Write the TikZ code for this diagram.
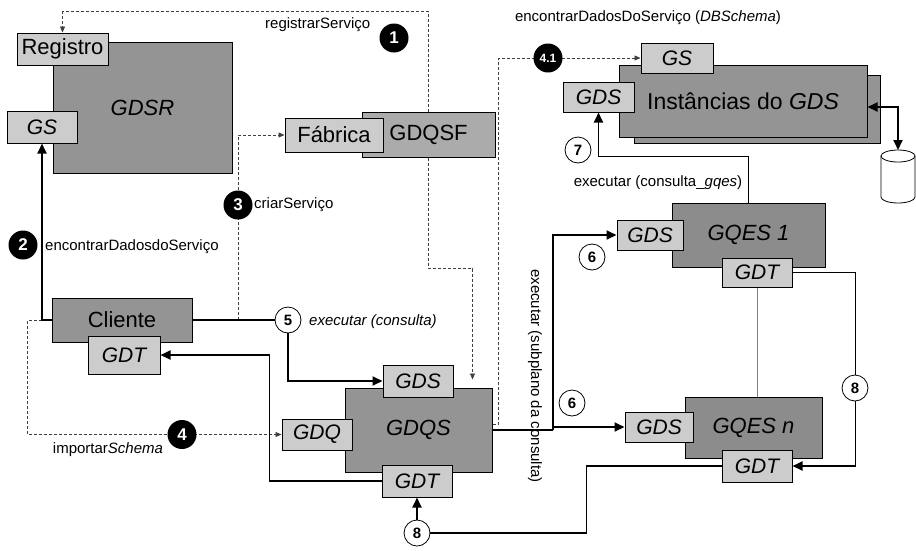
\documentclass[tikz,border=0pt]{standalone}
\usepackage{fontspec}
\setmainfont{Liberation Sans}
\usetikzlibrary{positioning,arrows.meta,calc,shadows}
\pgfdeclarelayer{marks}
\pgfsetlayers{main,marks}

\begin{document}
\begin{tikzpicture}[
    x=1pt, y=-1pt,
    bigbox/.style={draw=black, fill=black!42, line width=1pt, inner sep=0pt,
                   font=\fontsize{22}{24}\selectfont\itshape,
                   drop shadow={shadow xshift=1.2pt, shadow yshift=-1.2pt, fill=black, opacity=0.7}},
    tagbox/.style={draw=black, fill=black!20, line width=1pt, inner sep=0pt,
                   minimum width=70pt, minimum height=31pt,
                   font=\fontsize{21}{24}\selectfont\itshape,
                   drop shadow={shadow xshift=1.2pt, shadow yshift=-1.2pt, fill=black, opacity=0.7}},
    upright/.style={font=\fontsize{22}{24}\selectfont},
    msg/.style={inner sep=0pt, font=\fontsize{15}{18}\selectfont},
    stepdot/.style={circle, fill=black, text=white, minimum size=29pt, inner sep=0pt,
                    font=\fontsize{17}{17}\selectfont\bfseries},
    stepring/.style={circle, draw=black, fill=white, line width=0.8pt, minimum size=26pt,
                     inner sep=0pt, font=\fontsize{15}{15}\selectfont\bfseries},
    flow/.style={-{Triangle[length=10pt,width=9pt]}, line width=1.8pt},
    link/.style={line width=1.8pt},
    call/.style={-{Triangle[length=6pt,width=5pt]}, dash pattern=on 3pt off 2pt,
                 line width=0.8pt, black!75}
]
\useasboundingbox (0,0) rectangle (916,550);

% Registry
\node[bigbox, minimum width=179pt, minimum height=131pt] (gdsr) at (142.5,107.5) {GDSR};
\node[tagbox, upright, minimum width=91pt, minimum height=32pt] (registro) at (62.5,49) {Registro};
\node[tagbox, minimum height=32pt] (gsr) at (42,127) {GS};

% Factory
\node[bigbox, upright, fill=black!33, minimum width=133pt, minimum height=45pt] (gdqsf) at (428.5,134.5) {GDQSF};
\node[tagbox, upright, minimum width=98pt, minimum height=34pt] (fabrica) at (334,135) {Fábrica};

% Data service instances
\node[bigbox, minimum width=246pt, minimum height=68pt] (inst2) at (757,109) {};
\node[bigbox, font=\fontsize{23}{24}\selectfont, minimum width=248pt, minimum height=72pt] (inst) at (743,101) {Instâncias do \textit{GDS}};
\node[tagbox, minimum width=72pt, minimum height=30pt] (gs2) at (677,58) {GS};
\node[tagbox, minimum width=71pt, minimum height=30pt] (gds0) at (598.5,97) {GDS};

% Database
\draw[fill=white, line width=0.8pt] (881,156) -- (881,197)
    arc[start angle=180, end angle=360, x radius=17pt, y radius=6pt] -- (915,156);
\draw[fill=white, line width=0.8pt] (898,156) ellipse [x radius=17pt, y radius=6pt];
\coordinate (dbtop) at (898,150);

% Evaluation services
\node[bigbox, fill=black!45, minimum width=153pt, minimum height=64pt] (gqes1) at (748.5,235) {GQES 1};
\node[tagbox, minimum width=66pt, minimum height=30pt] (gds1) at (650,235) {GDS};
\node[tagbox, minimum height=29pt] (gdt1) at (757,272.5) {GDT};
\node[bigbox, fill=black!45, minimum width=137pt, minimum height=61pt] (gqesn) at (753.5,427.5) {GQES n};
\node[tagbox, minimum width=68pt, minimum height=30pt] (gdsn) at (659,427) {GDS};
\node[tagbox, minimum height=32pt] (gdtn) at (757,466) {GDT};

% Query service
\node[bigbox, minimum width=147pt, minimum height=84pt] (gdqs) at (418.5,430) {GDQS};
\node[tagbox, minimum height=32pt] (gdsq) at (418,381) {GDS};
\node[tagbox] (gdq) at (317,434.5) {GDQ};
\node[tagbox, minimum height=32pt] (gdtq) at (417,481) {GDT};

% Client
\node[bigbox, upright, minimum width=140pt, minimum height=44pt] (cliente) at (122,320) {Cliente};
\node[tagbox, minimum width=72pt, minimum height=38pt] (gdtc) at (124,355) {GDT};

\coordinate (j3) at (238,320);
\coordinate (split) at (553,430);

% Step markers
\begin{pgfonlayer}{marks}
\node[stepdot] (c1) at (394,38) {1};
\node[stepdot] (c2) at (23,245) {2};
\node[stepdot] (c3) at (238,205) {3};
\node[stepdot] (c4) at (182,434.5) {4};
\node[stepdot, font=\fontsize{12}{12}\selectfont\bfseries] (c41) at (548,58) {4.1};
\node[stepring] (c5) at (288,320) {5};
\node[stepring] (c6a) at (592,257) {6};
\node[stepring] (c6b) at (572,403) {6};
\node[stepring] (c7) at (578,150) {7};
\node[stepring] (c8a) at (417,533) {8};
\node[stepring] (c8b) at (855,388) {8};
\end{pgfonlayer}

% Labels
\node[msg, anchor=west] (t1) at (265,25) {registrarServiço};
\node[msg, anchor=west] (t2) at (45,247) {encontrarDadosdoServiço};
\node[msg, anchor=west] (t3) at (254,205) {criarServiço};
\node[msg] (t4) at (108,450) {importar\textit{Schema}};
\node[msg] (t41) at (648,18) {encontrarDadosDoServiço (\textit{DBSchema})};
\node[msg, anchor=west, font=\fontsize{15}{18}\selectfont\itshape] (t5) at (309,322) {executar (consulta)};
\node[msg, rotate=-90] (t6) at (535,376) {executar (subplano da consulta)};
\node[msg] (t7) at (658,183) {executar (consulta\_\textit{gqes})};

% Dashed calls
\draw[call] (gdqsf.north) -- ++(0,-100) -| (registro.north);
\draw[call] (j3) |- (fabrica.west);
\draw[call] (gdqsf.south) -- ++(0,111) -| ([xshift=-20pt,yshift=8pt]gdqs.north east);
\draw[call] ([yshift=6pt]gdqs.east) -- ++(6,0) |- (gs2.west);
\draw[call] (cliente.west) -- ++(-24,0) |- (gdq.west);

% Solid flows
\draw[flow] (cliente.west) -| (gsr.south);
\draw[link] (cliente.east) -- (c5);
\draw[flow] (c5) |- (gdsq.west);
\draw[flow] (gdtq.west) -- ++(-112,0) |- (gdtc.east);
\draw[link] (gdqs.east) -- (split);
\draw[flow] (split) |- (gds1.west);
\draw[flow] (split) |- (gdsn.west);
\draw[flow] (gqes1.north) -- ++(0,-46) -| (gds0.south);
\draw[flow, {Triangle[length=10pt,width=9pt]}-{Triangle[length=10pt,width=9pt]}]
    ([yshift=-6pt]inst.east) -| (dbtop);
\draw[flow] (gdt1.east) -- ++(63,0) |- (gdtn.east);
\draw[link] (gdtn.west) -- ++(-135,0) |- (c8a);
\draw[flow] (c8a) -- (gdtq.south);
\draw[line width=0.6pt, black!50] (gdt1.south) -- (gdt1.south |- gqesn.north);

\end{tikzpicture}
\end{document}
